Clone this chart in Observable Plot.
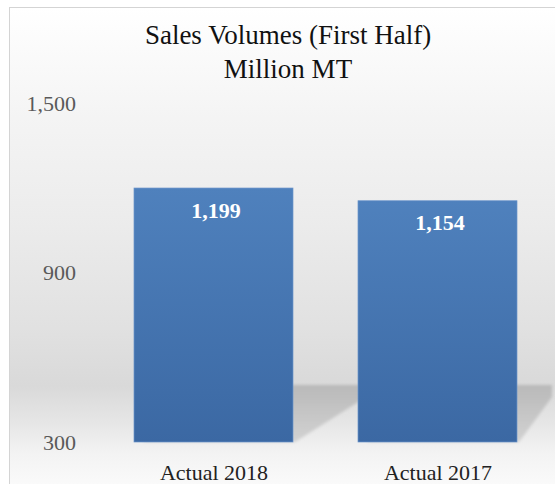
<!DOCTYPE html>
<html><head><meta charset="utf-8">
<script src="https://cdn.jsdelivr.net/npm/d3@7"></script>
<script src="https://cdn.jsdelivr.net/npm/@observablehq/plot@0.6"></script>
<style>
html,body{margin:0;padding:0;background:#fff;}
#wrap{position:relative;width:555px;height:484px;overflow:hidden;}
#frame{position:absolute;left:9px;top:7px;width:560px;height:490px;border-left:1px solid #d4d4d4;border-top:1px solid #d4d4d4;
 background:linear-gradient(to bottom,#ffffff 0px,#f4f4f4 110px,#ebebeb 220px,#e1e1e1 320px,#d9d9d9 378px,#e6e6e6 415px,#f3f3f3 445px,#fafafa 477px);}
#title{position:absolute;left:0;top:18px;width:576px;text-align:center;font-family:"Liberation Serif","Times New Roman",serif;font-size:27px;line-height:34px;color:#111;}
#chart{position:absolute;left:0;top:0;}
</style>
</head><body>
<div id="wrap">
 <div id="frame"></div>
 <div id="chart"></div>
 <div id="title">Sales Volumes (First Half)<br>Million MT</div>
</div>
<script>
const categories = ["Actual 2018", "Actual 2017"];
const values = [1199, 1154];
const yTicks = [300, 900, 1500];
const yMin = 300, yMax = 1500;

const data = categories.map((c, i) => ({cat: c, value: values[i]}));
const fmt = d3.format(",");

const defsMark = () => {
  const g = d3.create("svg:g");
  const defs = g.append("defs");
  const lg = defs.append("linearGradient").attr("id", "barGrad").attr("x1", 0).attr("y1", 0).attr("x2", 0).attr("y2", 1);
  lg.append("stop").attr("offset", "0%").attr("stop-color", "#4f81bd");
  lg.append("stop").attr("offset", "100%").attr("stop-color", "#3b68a3");
  const sg = defs.append("linearGradient").attr("id", "shadowGrad").attr("x1", 0).attr("y1", 0).attr("x2", 0).attr("y2", 1);
  sg.append("stop").attr("offset", "0%").attr("stop-color", "#b9b9b9");
  sg.append("stop").attr("offset", "100%").attr("stop-color", "#d2d2d2");
  const f = defs.append("filter").attr("id", "blur").attr("x", "-10%").attr("y", "-10%").attr("width", "120%").attr("height", "120%");
  f.append("feGaussianBlur").attr("stdDeviation", 1.8);
  return g.node();
};

const shadowReach = [73, 35];
const shadowMark = (index, scales) => {
  const g = d3.create("svg:g");
  const x = scales.x, y = scales.y;
  const bw = x.bandwidth();
  const y0 = y(yMin);
  const top = y0 - 57;
  data.forEach((d, i) => {
    const xl = x(d.cat), xr = xl + bw, w = shadowReach[i];
    const pts = [[xl + 10, top], [xr + w, top], [xr + w, top + 12], [xr + 2, y0], [xl + 10, y0]];
    g.append("polygon").attr("points", pts.map(p => p.join(",")).join(" "))
      .attr("fill", "url(#shadowGrad)").attr("filter", "url(#blur)");
  });
  return g.node();
};

const chart = Plot.plot({
  width: 555, height: 484,
  marginTop: 103, marginBottom: 42, marginLeft: 111.5, marginRight: 15,
  style: {background: "transparent", fontFamily: "'Liberation Serif','Times New Roman',serif", overflow: "visible"},
  x: {domain: categories, paddingInner: 0.292, paddingOuter: 0.1, label: null},
  y: {domain: [yMin, yMax], label: null},
  marks: [
    defsMark,
    shadowMark,
    Plot.barY(data, {x: "cat", y1: () => yMin, y2: "value", fill: "url(#barGrad)", stroke: "#6a94ca", strokeWidth: 0.7}),
    Plot.text(data, {x: "cat", y: "value", text: d => fmt(d.value), dy: 22, dx: 2, fill: "white", fontWeight: "bold", fontSize: 22}),
    Plot.axisY({ticks: yTicks, tickFormat: fmt, tickSize: 0, tickPadding: 36, fontSize: 22, fill: "#595959", label: null}),
    Plot.axisX({tickSize: 0, tickPadding: 22, fontSize: 22, fill: "#222", label: null})
  ]
});
document.getElementById("chart").appendChild(chart);
</script>
</body></html>
